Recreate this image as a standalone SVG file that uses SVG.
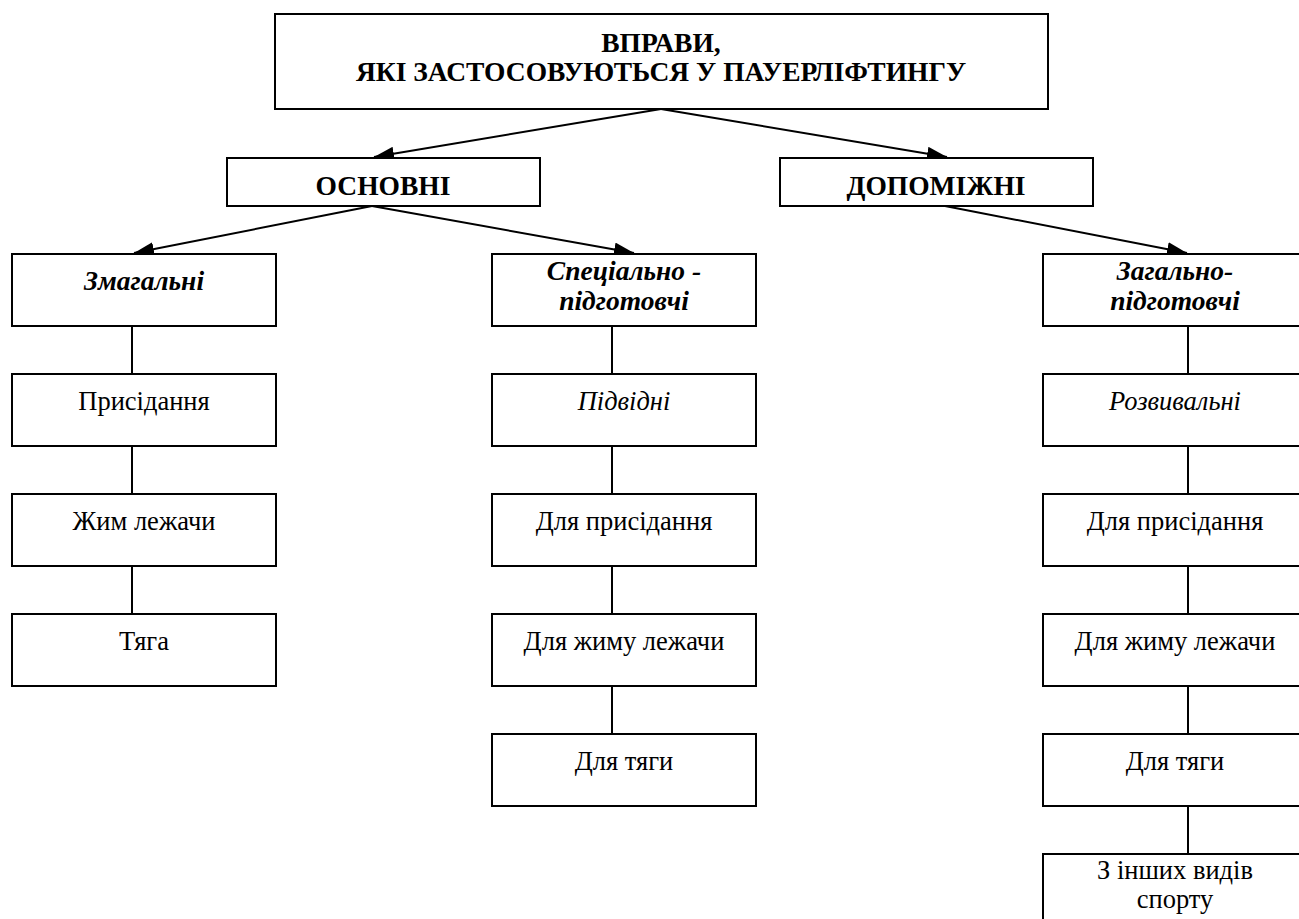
<svg xmlns="http://www.w3.org/2000/svg" width="1299" height="919" viewBox="0 0 1299 919" font-family="'Liberation Serif', 'DejaVu Serif', serif">
<style>
.box{fill:#fff;stroke:#000;stroke-width:2}
.t{font-family:'Liberation Serif','DejaVu Serif',serif;font-size:26.5px;fill:#000;text-anchor:middle}
.b{font-weight:bold;font-size:27.5px}
.i{font-style:italic}
.c{stroke:#000;stroke-width:2;fill:none}
</style>
<defs>
<marker id="ah" viewBox="0 0 20 14" refX="20" refY="7" markerWidth="20" markerHeight="14" markerUnits="userSpaceOnUse" orient="auto">
<path d="M0,0 L20,7 L0,14 Z" fill="#000"/>
</marker>
</defs>
<rect width="1299" height="919" fill="#fff"/>
<g id="connectors">
<line class="c" x1="661" y1="109" x2="374" y2="157" marker-end="url(#ah)"/>
<line class="c" x1="661" y1="109" x2="947" y2="157" marker-end="url(#ah)"/>
<line class="c" x1="372" y1="206" x2="134" y2="253" marker-end="url(#ah)"/>
<line class="c" x1="372" y1="206" x2="634" y2="253" marker-end="url(#ah)"/>
<line class="c" x1="945" y1="206" x2="1187" y2="253" marker-end="url(#ah)"/>
<line class="c" x1="132" y1="326" x2="132" y2="374"/>
<line class="c" x1="132" y1="446" x2="132" y2="494"/>
<line class="c" x1="132" y1="566" x2="132" y2="614"/>
<line class="c" x1="612" y1="326" x2="612" y2="374"/>
<line class="c" x1="612" y1="446" x2="612" y2="494"/>
<line class="c" x1="612" y1="566" x2="612" y2="614"/>
<line class="c" x1="612" y1="686" x2="612" y2="734"/>
<line class="c" x1="1188" y1="326" x2="1188" y2="374"/>
<line class="c" x1="1188" y1="446" x2="1188" y2="494"/>
<line class="c" x1="1188" y1="566" x2="1188" y2="614"/>
<line class="c" x1="1188" y1="686" x2="1188" y2="734"/>
<line class="c" x1="1188" y1="806" x2="1188" y2="854"/>
</g>
<g id="root"><rect class="box" x="275" y="14" width="773" height="95"/>
<text class="t b" x="661" y="52">ВПРАВИ,</text>
<text class="t b" x="661" y="81">ЯКІ ЗАСТОСОВУЮТЬСЯ У ПАУЕРЛІФТИНГУ</text></g>
<g id="osnovni"><rect class="box" x="227" y="158" width="313" height="48"/><text class="t b" x="383" y="195">ОСНОВНІ</text></g>
<g id="dopomizhni"><rect class="box" x="780" y="158" width="313" height="48"/><text class="t b" x="936" y="195">ДОПОМІЖНІ</text></g>
<g id="zmahalni"><rect class="box" x="12" y="254" width="264" height="72"/><text class="t b i" x="144" y="290">Змагальні</text></g>
<g id="spets"><rect class="box" x="492" y="254" width="264" height="72"/><text class="t b i" x="624" y="280">Спеціально -</text><text class="t b i" x="624" y="310">підготовчі</text></g>
<g id="zahalno"><rect class="box" x="1043" y="254" width="264" height="72"/><text class="t b i" x="1175" y="280">Загально-</text><text class="t b i" x="1175" y="310">підготовчі</text></g>
<g id="prysid"><rect class="box" x="12" y="374" width="264" height="72"/><text class="t" x="144" y="410">Присідання</text></g>
<g id="zhym"><rect class="box" x="12" y="494" width="264" height="72"/><text class="t" x="144" y="530">Жим лежачи</text></g>
<g id="tyaha"><rect class="box" x="12" y="614" width="264" height="72"/><text class="t" x="144" y="650">Тяга</text></g>
<g id="pidvidni"><rect class="box" x="492" y="374" width="264" height="72"/><text class="t i" x="624" y="410">Підвідні</text></g>
<g id="m-prysid"><rect class="box" x="492" y="494" width="264" height="72"/><text class="t" x="624" y="530">Для присідання</text></g>
<g id="m-zhym"><rect class="box" x="492" y="614" width="264" height="72"/><text class="t" x="624" y="650">Для жиму лежачи</text></g>
<g id="m-tyaha"><rect class="box" x="492" y="734" width="264" height="72"/><text class="t" x="624" y="770">Для тяги</text></g>
<g id="rozvyv"><rect class="box" x="1043" y="374" width="264" height="72"/><text class="t i" x="1175" y="410">Розвивальні</text></g>
<g id="r-prysid"><rect class="box" x="1043" y="494" width="264" height="72"/><text class="t" x="1175" y="530">Для присідання</text></g>
<g id="r-zhym"><rect class="box" x="1043" y="614" width="264" height="72"/><text class="t" x="1175" y="650">Для жиму лежачи</text></g>
<g id="r-tyaha"><rect class="box" x="1043" y="734" width="264" height="72"/><text class="t" x="1175" y="770">Для тяги</text></g>
<g id="r-inshi"><rect class="box" x="1043" y="854" width="264" height="72"/><text class="t" x="1175" y="879">З інших видів</text><text class="t" x="1175" y="908">спорту</text></g>
</svg>
